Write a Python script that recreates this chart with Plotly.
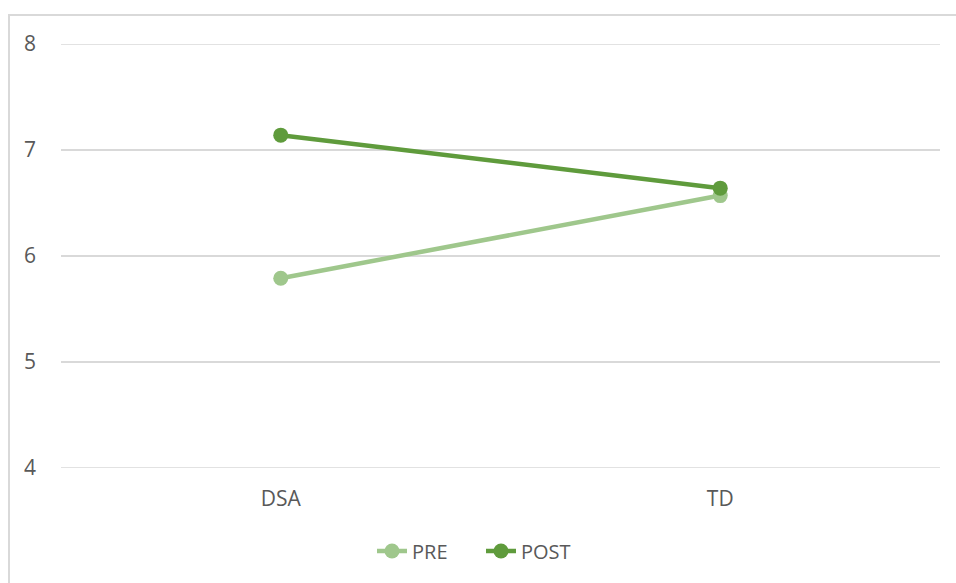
import plotly.graph_objects as go

categories = ["DSA", "TD"]
pre_values = [5.79, 6.57]
post_values = [7.14, 6.64]
y_ticks = [4, 5, 6, 7, 8]

PRE_COLOR = "#9fc78c"
POST_COLOR = "#5f9b3c"
GRID = "#d9d9d9"
TEXT = "#595959"

fig = go.Figure()
fig.add_trace(go.Scatter(x=categories, y=pre_values, name="PRE", mode="lines+markers",
                         line=dict(color=PRE_COLOR, width=4.5),
                         marker=dict(size=15, color=PRE_COLOR)))
fig.add_trace(go.Scatter(x=categories, y=post_values, name="POST", mode="lines+markers",
                         line=dict(color=POST_COLOR, width=4.5),
                         marker=dict(size=15, color=POST_COLOR)))

L, R, T, B = 61, 16, 44, 115
W, H = 956, 583
pw, ph = W - L - R, H - T - B

grid_edges = [dict(type="line", xref="paper", yref="y", x0=0, x1=1, y0=v, y1=v,
                   line=dict(color=GRID, width=1.5), layer="below")
              for v in (y_ticks[0], y_ticks[-1])]

fig.update_layout(
    width=W, height=H,
    margin=dict(l=L, r=R, t=T, b=B),
    paper_bgcolor="white", plot_bgcolor="white",
    font=dict(family="Open Sans, Liberation Sans, sans-serif", size=21, color=TEXT),
    showlegend=True,
    legend=dict(orientation="h", x=(372 - L) / pw, xanchor="left", y=(T + ph - 551) / ph,
                yanchor="middle", font=dict(size=20, color=TEXT), entrywidth=64,
                traceorder="normal"),
    xaxis=dict(type="category", range=[-0.5, 1.5], showgrid=False, zeroline=False,
               showline=False, ticks="", ticklabelstandoff=16, tickfont=dict(size=21),
               fixedrange=True),
    yaxis=dict(range=[4, 8], tickvals=y_ticks, showgrid=True, gridcolor=GRID, gridwidth=1.5,
               zeroline=False, showline=False, ticks="", ticklabelstandoff=24,
               tickfont=dict(size=21)),
    shapes=grid_edges + [dict(type="rect", xref="paper", yref="paper",
                 x0=(9 - L) / pw, x1=(W + 20 - L) / pw,
                 y0=(T + ph - (H + 20)) / ph, y1=(T + ph - 15) / ph,
                 line=dict(color=GRID, width=2), fillcolor="rgba(0,0,0,0)", layer="below")],
)

fig.write_html("out.html")
